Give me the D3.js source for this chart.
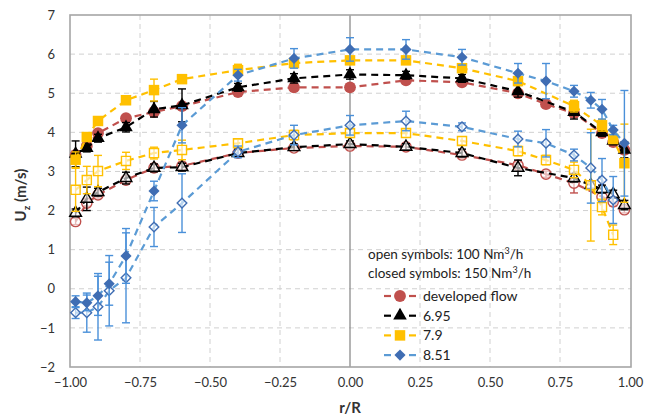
<!DOCTYPE html>
<html>
<head>
<meta charset="utf-8">
<script src="https://cdn.jsdelivr.net/npm/d3@7"></script>
<style>
	body { margin: 0; background: #fff; }
	text { font-family: Lato, "Open Sans", sans-serif; }
</style>
</head>
<body>
<div id="chart"></div>
<script>
// radial positions (r/R) shared by all series, null = no point there
const r_positions = [-0.98, -0.94, -0.9, -0.86, -0.8, -0.7, -0.6, -0.4, -0.2, 0, 0.2, 0.4, 0.6, 0.7, 0.8, 0.86, 0.9, 0.94, 0.98];

// closed symbols: 150 Nm3/h
const dev_closed     = [3.42, 3.65, 3.98, null, 4.36, 4.52, 4.67, 5.03, 5.15, 5.15, 5.33, 5.28, 5.00, 4.72, 4.49, null, 3.98, 3.75, 3.55];
const dev_closed_err = [0.10, 0.08, 0.08, null, 0.08, 0.08, 0.08, 0.08, 0.08, 0.08, 0.08, 0.08, 0.08, 0.08, 0.10, null, 0.10, 0.08, 0.10];
const s695_closed     = [3.45, 3.60, 3.85, null, 4.13, 4.59, 4.69, 5.15, 5.38, 5.48, 5.46, 5.38, 5.05, null, 4.52, null, 4.00, 3.78, 3.55];
const s695_closed_err = [0.33, 0.10, 0.10, null, 0.12, 0.20, 0.42, 0.10, 0.12, 0.12, 0.10, 0.10, 0.15, null, 0.18, null, 0.10, 0.10, 0.20];
const s79_closed     = [3.30, 3.88, 4.29, null, 4.82, 5.08, 5.36, 5.59, 5.77, 5.84, 5.84, 5.64, 5.31, null, 4.67, null, 4.18, 3.83, 3.21];
const s79_closed_err = [0.20, 0.10, 0.10, null, 0.10, 0.28, 0.10, 0.15, 0.10, 0.10, 0.10, 0.10, 0.10, null, 0.15, null, 0.15, 0.10, 1.00];
const s851_closed     = [-0.33, -0.36, -0.18, 0.13, 0.84, 2.50, 4.18, 5.46, 5.89, 6.12, 6.12, 5.92, 5.51, 5.31, 5.05, 4.82, 4.59, 4.06, 3.72];
const s851_closed_err = [0.15, 0.20, 0.50, 0.55, 0.70, 0.25, 0.45, 0.15, 0.25, 0.30, 0.25, 0.20, 0.25, 0.45, 0.15, 0.20, 0.25, 0.12, 1.35];

// open symbols: 100 Nm3/h
const dev_open     = [1.72, 2.19, 2.40, null, 2.78, 3.09, 3.14, 3.47, 3.60, 3.65, 3.63, 3.42, 3.16, 2.93, 2.70, null, 2.35, 2.22, 2.02];
const dev_open_err = [0.08, 0.08, 0.08, null, 0.08, 0.08, 0.08, 0.08, 0.08, 0.08, 0.08, 0.08, 0.08, 0.08, 0.25, null, 0.10, 0.10, 0.08];
const s695_open     = [1.94, 2.30, 2.47, null, 2.83, 3.09, 3.11, 3.47, 3.62, 3.70, 3.63, 3.47, 3.09, null, 2.83, 2.65, 2.55, 2.42, 2.14];
const s695_open_err = [0.10, 0.30, 0.10, null, 0.15, 0.10, 0.10, 0.10, 0.08, 0.08, 0.08, 0.10, 0.20, null, 0.10, 0.10, 0.10, 0.10, 0.12];
const s79_open     = [2.53, 2.78, 3.01, null, 3.27, 3.47, 3.55, 3.72, 3.93, 3.98, 3.98, 3.78, 3.52, 3.29, 3.04, 2.65, 2.09, 1.38, null];
const s79_open_err = [0.55, 0.35, 0.40, null, 0.22, 0.15, 0.25, 0.10, 0.12, 0.10, 0.10, 0.10, 0.12, 0.12, 0.20, 1.43, 0.20, 0.25, null];
const s851_open     = [-0.61, -0.61, -0.46, -0.05, 0.28, 1.58, 2.19, 3.50, 3.93, 4.18, 4.29, 4.14, 3.83, 3.72, 3.42, 3.09, 2.78, 2.27, null];
const s851_open_err = [0.15, 0.50, 0.85, 0.90, 1.15, 0.50, 0.75, 0.15, 0.25, 0.25, 0.25, 0.10, 0.20, 0.35, 0.15, 0.90, 0.55, 0.60, null];

const x_ticks = [-1, -0.75, -0.5, -0.25, 0, 0.25, 0.5, 0.75, 1];
const y_ticks = [-2, -1, 0, 1, 2, 3, 4, 5, 6, 7];

const legend_notes = ["open symbols: 100 Nm\u00b3/h", "closed symbols: 150 Nm\u00b3/h"];

const series = [
	{name: "developed flow", shape: "circle",   line: "#c0504d", marker: "#c0504d", bar: "#c0504d", closed: dev_closed,  closed_err: dev_closed_err,  open: dev_open,  open_err: dev_open_err},
	{name: "6.95",           shape: "triangle", line: "#000000", marker: "#000000", bar: "#000000", closed: s695_closed, closed_err: s695_closed_err, open: s695_open, open_err: s695_open_err},
	{name: "7.9",            shape: "square",   line: "#ffc000", marker: "#ffc000", bar: "#ffc000", closed: s79_closed,  closed_err: s79_closed_err,  open: s79_open,  open_err: s79_open_err},
	{name: "8.51",           shape: "diamond",  line: "#5b9bd5", marker: "#3f6db3", bar: "#4a90d9", closed: s851_closed, closed_err: s851_closed_err, open: s851_open, open_err: s851_open_err},
];

const svg_dimensions = {width: 646, height: 419};
const plot = {left: 70, right: 631, top: 15, bottom: 367};

const svg = d3.select("#chart")
	.append("svg")
		.attr("width", svg_dimensions.width)
		.attr("height", svg_dimensions.height);

const x = d3.scaleLinear().domain([-1, 1]).range([plot.left, plot.right - 1]);
const y = d3.scaleLinear().domain([-2, 7]).range([plot.bottom, plot.top]);

// grid
svg.append("g")
	.selectAll("line")
	.data(y_ticks.slice(1, -1))
	.join("line")
		.attr("x1", plot.left).attr("x2", plot.right)
		.attr("y1", d => y(d)).attr("y2", d => y(d))
		.attr("stroke", "#d0d0d0").attr("stroke-width", 1)
		.attr("stroke-dasharray", "5,4");
svg.append("g")
	.selectAll("line")
	.data(x_ticks.filter(d => d != 0 && Math.abs(d) != 1))
	.join("line")
		.attr("x1", d => x(d)).attr("x2", d => x(d))
		.attr("y1", plot.top).attr("y2", plot.bottom)
		.attr("stroke", "#d0d0d0").attr("stroke-width", 1)
		.attr("stroke-dasharray", "5,4");

// vertical axis line at r/R = 0
svg.append("line")
	.attr("x1", x(0)).attr("x2", x(0))
	.attr("y1", plot.top).attr("y2", plot.bottom)
	.attr("stroke", "#8c8c8c").attr("stroke-width", 1.3);

// frame
svg.append("rect")
	.attr("x", plot.left).attr("y", plot.top)
	.attr("width", plot.right - plot.left).attr("height", plot.bottom - plot.top)
	.attr("fill", "none").attr("stroke", "#a6a6a6").attr("stroke-width", 1.6);

// axes (labels only)
const x_axis = svg.append("g")
	.attr("transform", "translate(0," + (plot.bottom + 8) + ")")
	.call(d3.axisBottom(x).tickValues(x_ticks).tickFormat(d3.format(".2f")).tickSize(0));
x_axis.select(".domain").remove();
x_axis.selectAll("text").attr("font-size", 13).attr("fill", "#333").attr("font-family", "Lato, sans-serif");

const y_axis = svg.append("g")
	.attr("transform", "translate(" + (plot.left - 12) + ",0)")
	.call(d3.axisLeft(y).tickValues(y_ticks).tickFormat(d3.format("d")).tickSize(0));
y_axis.select(".domain").remove();
y_axis.selectAll("text").attr("font-size", 13).attr("fill", "#333").attr("font-family", "Lato, sans-serif");

svg.append("text")
	.attr("x", x(0))
	.attr("y", 413)
	.attr("text-anchor", "middle")
	.attr("font-size", 15).attr("font-weight", "bold").attr("fill", "#333")
	.text("r/R");

const y_label = svg.append("text")
	.attr("transform", "translate(26,195) rotate(-90)")
	.attr("text-anchor", "middle")
	.attr("font-size", 15).attr("font-weight", "bold").attr("fill", "#333");
y_label.append("tspan").text("U");
y_label.append("tspan").attr("font-size", 10).attr("dy", 4).text("z");
y_label.append("tspan").attr("dy", -4).text(" (m/s)");

// marker paths, open markers drawn a bit smaller
function marker_path(shape, scale) {
	const k = scale || 1;
	if (shape == "circle") return d3.symbol(d3.symbolCircle, 110 * k)();
	if (shape == "triangle") return d3.symbol(d3.symbolTriangle, 80 * k)();
	if (shape == "square") return d3.symbol(d3.symbolSquare, 110 * k)();
	return d3.symbol(d3.symbolSquare, 62 * k)();
}
function marker_rotation(shape) {
	return shape == "diamond" ? " rotate(45)" : "";
}

function points(values, errs) {
	return r_positions
		.map((r, i) => ({r: r, v: values[i], e: errs[i]}))
		.filter(d => d.v != null);
}

const line = d3.line().x(d => x(d.r)).y(d => y(d.v));

function draw_set(s, key, filled) {
	const pts = points(s[key], s[key + "_err"]);
	const g = svg.append("g");
	g.append("path")
		.datum(pts)
		.attr("d", line)
		.attr("fill", "none")
		.attr("stroke", s.line)
		.attr("stroke-width", 2.2)
		.attr("stroke-dasharray", "7,5");
	const bars = g.append("g")
		.selectAll("g")
		.data(pts)
		.join("g")
			.attr("stroke", s.bar)
			.attr("stroke-width", 1.4);
	bars.append("line")
		.attr("x1", d => x(d.r)).attr("x2", d => x(d.r))
		.attr("y1", d => y(d.v - d.e)).attr("y2", d => y(d.v + d.e));
	bars.append("line")
		.attr("x1", d => x(d.r) - 4).attr("x2", d => x(d.r) + 4)
		.attr("y1", d => y(d.v - d.e)).attr("y2", d => y(d.v - d.e));
	bars.append("line")
		.attr("x1", d => x(d.r) - 4).attr("x2", d => x(d.r) + 4)
		.attr("y1", d => y(d.v + d.e)).attr("y2", d => y(d.v + d.e));
	g.append("g")
		.selectAll("path")
		.data(pts)
		.join("path")
			.attr("d", marker_path(s.shape, filled ? 1 : 0.75))
			.attr("transform", d => "translate(" + x(d.r) + "," + y(d.v) + ")" + marker_rotation(s.shape))
			.attr("fill", filled ? s.marker : "#ffffff")
			.attr("fill-opacity", filled ? 1 : 0.6)
			.attr("stroke", s.marker)
			.attr("stroke-width", filled ? 0 : 1.4);
}

for (const s of series) draw_set(s, "open", false);
for (const s of series) draw_set(s, "closed", true);

// legend
svg.append("g")
	.selectAll("text")
	.data(legend_notes)
	.join("text")
		.attr("x", 368)
		.attr("y", (d, i) => 259 + i * 19)
		.attr("font-size", 13.5)
		.attr("fill", "#222")
		.each(function(d) {
			// superscript the 3
			const t = d3.select(this);
			const parts = d.split("\u00b3");
			t.append("tspan").text(parts[0]);
			t.append("tspan").attr("font-size", 9).attr("dy", -5).text("3");
			t.append("tspan").attr("dy", 5).text(parts[1]);
		});

const legend_rows = svg.append("g")
	.selectAll("g")
	.data(series)
	.join("g")
		.attr("transform", (d, i) => "translate(0," + (296 + i * 19.7) + ")");
legend_rows.selectAll("line")
	.data(d => [[384, 391, d.line], [409, 416, d.line]])
	.join("line")
		.attr("x1", d => d[0]).attr("x2", d => d[1])
		.attr("y1", 0).attr("y2", 0)
		.attr("stroke", d => d[2])
		.attr("stroke-width", 2.2);
legend_rows.append("path")
	.attr("d", d => marker_path(d.shape))
	.attr("transform", d => "translate(400,0)" + marker_rotation(d.shape))
	.attr("fill", d => d.marker);
legend_rows.append("text")
	.attr("x", 423)
	.attr("y", 5)
	.attr("font-size", 14)
	.attr("fill", "#222")
	.text(d => d.name);
</script>
</body>
</html>
